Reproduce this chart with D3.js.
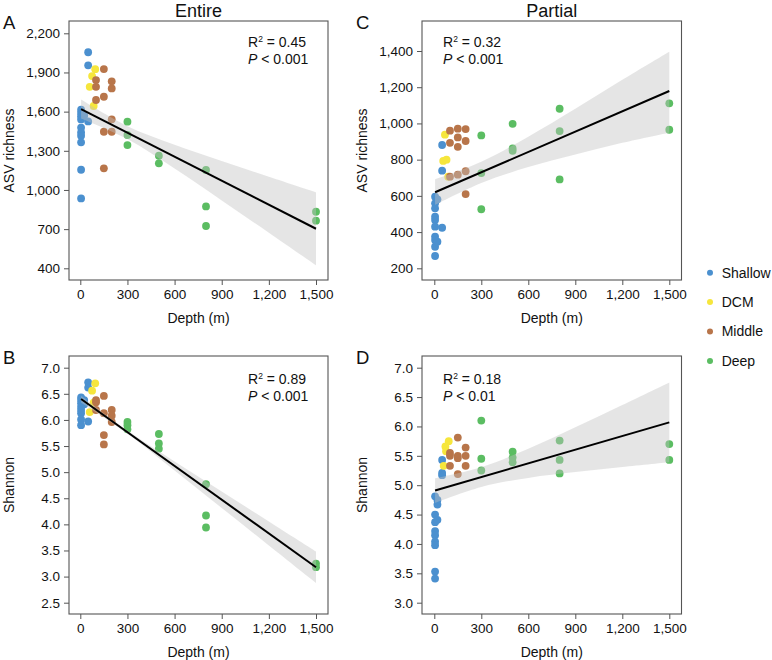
<!DOCTYPE html>
<html>
<head>
<meta charset="utf-8">
<script src="https://cdn.jsdelivr.net/npm/d3@7"></script>
<style>
  body { margin: 0; background: #fff; }
  svg text { font-family: "Liberation Sans", Arial, sans-serif; fill: #111; }
</style>
</head>
<body>
<div id="graph"></div>
<script>
// groups and depth axis
const groups = ["Shallow", "DCM", "Middle", "Deep"];
const depthTicks = [0, 300, 600, 900, 1200, 1500];
const richTicksEntire = [400, 700, 1000, 1300, 1600, 1900, 2200];
const richTicksPartial = [200, 400, 600, 800, 1000, 1200, 1400];
const shanTicksEntire = [2.5, 3.0, 3.5, 4.0, 4.5, 5.0, 5.5, 6.0, 6.5, 7.0];
const shanTicksPartial = [3.0, 3.5, 4.0, 4.5, 5.0, 5.5, 6.0, 6.5, 7.0];

// samples: [group, depth, value]
const entireRichness = [
  ["Shallow",5,1615],["Shallow",5,1590],["Shallow",5,1565],["Shallow",5,1540],["Shallow",5,1478],
  ["Shallow",5,1440],["Shallow",5,1415],["Shallow",5,1365],["Shallow",5,1155],["Shallow",5,935],
  ["Shallow",25,1570],["Shallow",50,1525],["Shallow",50,2055],["Shallow",50,1955],
  ["DCM",95,1925],["DCM",75,1872],["DCM",60,1790],["DCM",85,1643],
  ["Middle",150,1926],["Middle",100,1842],["Middle",100,1790],["Middle",200,1832],["Middle",200,1778],
  ["Middle",150,1714],["Middle",100,1689],["Middle",200,1541],["Middle",200,1446],["Middle",150,1446],
  ["Middle",150,1166],
  ["Deep",300,1523],["Deep",300,1421],["Deep",300,1344],["Deep",500,1262],["Deep",500,1204],
  ["Deep",800,1153],["Deep",800,874],["Deep",800,724],["Deep",1500,833],["Deep",1500,765]
];
const partialRichness = [
  ["Shallow",5,595],["Shallow",5,559],["Shallow",5,531],["Shallow",5,485],["Shallow",5,467],
  ["Shallow",5,430],["Shallow",5,375],["Shallow",5,356],["Shallow",5,319],["Shallow",5,268],
  ["Shallow",20,581],["Shallow",20,347],["Shallow",50,424],["Shallow",50,739],["Shallow",50,881],
  ["DCM",68,938],["DCM",57,793],["DCM",78,800],["DCM",89,706],
  ["Middle",100,960],["Middle",150,971],["Middle",200,969],["Middle",100,893],["Middle",150,923],
  ["Middle",150,871],["Middle",200,903],["Middle",100,706],["Middle",150,717],["Middle",200,736],
  ["Middle",200,610],
  ["Deep",300,934],["Deep",300,726],["Deep",300,526],["Deep",500,998],["Deep",500,862],
  ["Deep",500,849],["Deep",800,1081],["Deep",800,958],["Deep",800,691],["Deep",1500,1111],
  ["Deep",1500,965]
];
const entireShannon = [
  ["Shallow",5,6.43],["Shallow",5,6.38],["Shallow",5,6.32],["Shallow",5,6.25],["Shallow",5,6.19],
  ["Shallow",5,6.13],["Shallow",5,6.01],["Shallow",5,5.90],["Shallow",25,6.38],["Shallow",25,6.30],
  ["Shallow",50,6.72],["Shallow",50,6.62],["Shallow",50,5.97],
  ["DCM",95,6.70],["DCM",75,6.56],["DCM",85,6.33],["DCM",60,6.15],
  ["Middle",150,6.46],["Middle",100,6.38],["Middle",100,6.34],["Middle",100,6.19],["Middle",200,6.19],
  ["Middle",200,6.08],["Middle",150,6.13],["Middle",200,5.96],["Middle",150,5.71],["Middle",150,5.53],
  ["Deep",300,5.96],["Deep",300,5.90],["Deep",300,5.82],["Deep",500,5.73],["Deep",500,5.55],
  ["Deep",500,5.45],["Deep",800,4.77],["Deep",800,4.17],["Deep",800,3.94],["Deep",1500,3.25],
  ["Deep",1500,3.18]
];
const partialShannon = [
  ["Shallow",5,4.81],["Shallow",5,4.50],["Shallow",5,4.37],["Shallow",5,4.22],["Shallow",5,4.15],
  ["Shallow",5,4.04],["Shallow",5,3.98],["Shallow",5,3.53],["Shallow",5,3.41],["Shallow",20,4.75],
  ["Shallow",20,4.67],["Shallow",20,4.41],["Shallow",50,5.43],["Shallow",50,5.21],["Shallow",50,5.17],
  ["DCM",92,5.75],["DCM",71,5.66],["DCM",75,5.58],["DCM",60,5.33],
  ["Middle",150,5.81],["Middle",100,5.55],["Middle",100,5.50],["Middle",150,5.50],["Middle",150,5.46],
  ["Middle",200,5.64],["Middle",200,5.50],["Middle",100,5.33],["Middle",200,5.33],["Middle",150,5.19],
  ["Deep",300,6.10],["Deep",300,5.45],["Deep",300,5.25],["Deep",500,5.57],["Deep",500,5.47],
  ["Deep",500,5.39],["Deep",800,5.76],["Deep",800,5.43],["Deep",800,5.20],["Deep",1500,5.70],
  ["Deep",1500,5.43]
];

// fitted lines (depth 5 -> 1500) and 95% bands read at fitDepths
const fitEnds = [5, 1500];
const fitDepths = [5, 300, 600, 900, 1200, 1500];
const entireRichLine = [1620, 703];
const entireRichUpper = [1692, 1488, 1346, 1222, 1102, 983];
const entireRichLower = [1548, 1390, 1164, 920, 672, 423];
const partialRichLine = [620, 1179];
const partialRichUpper = [692, 789, 927, 1081, 1241, 1396];
const partialRichLower = [550, 671, 759, 829, 893, 949];
const entireShanLine = [6.40, 3.18];
const entireShanUpper = [6.465, 5.796, 5.206, 4.630, 4.055, 3.48];
const entireShanLower = [6.335, 5.734, 5.030, 4.314, 3.597, 2.88];
const partialShanLine = [4.91, 6.07];
const partialShanUpper = [5.12, 5.307, 5.62, 5.985, 6.365, 6.75];
const partialShanLower = [4.70, 4.971, 5.124, 5.223, 5.309, 5.39];

const stats = { A: ["0.45", "< 0.001"], C: ["0.32", "< 0.001"], B: ["0.89", "< 0.001"], D: ["0.18", "< 0.01"] };

const colors = { Shallow: "#4b90cf", DCM: "#f6e63c", Middle: "#b8754a", Deep: "#5bbd62" };
const axisColor = "#555";

const width = 772, height = 660;
const svg = d3.select("div#graph").append("svg")
  .attr("width", width).attr("height", height);

const panels = [
  { key: "A", data: entireRichness, line: entireRichLine, up: entireRichUpper, lo: entireRichLower,
    frame: { l: 69, t: 21, r: 328, b: 280 }, xr: [80.3, 316], yd: [400, 2200], yr: [268.3, 33.3],
    ticks: richTicksEntire, fmt: d3.format(","), ytitle: "ASV richness", title: "Entire",
    stat: [248, 47] },
  { key: "C", data: partialRichness, line: partialRichLine, up: partialRichUpper, lo: partialRichLower,
    frame: { l: 422, t: 21, r: 681.5, b: 280 }, xr: [434.3, 669.3], yd: [200, 1400], yr: [268.3, 51],
    ticks: richTicksPartial, fmt: d3.format(","), ytitle: "ASV richness", title: "Partial",
    stat: [443, 47] },
  { key: "B", data: entireShannon, line: entireShanLine, up: entireShanUpper, lo: entireShanLower,
    frame: { l: 69, t: 356, r: 328, b: 614 }, xr: [80.3, 316], yd: [2.5, 7.0], yr: [602.7, 367.7],
    ticks: shanTicksEntire, fmt: d3.format(".1f"), ytitle: "Shannon",
    stat: [248, 384] },
  { key: "D", data: partialShannon, line: partialShanLine, up: partialShanUpper, lo: partialShanLower,
    frame: { l: 422, t: 356, r: 681.5, b: 614 }, xr: [434.3, 669.3], yd: [3.0, 7.0], yr: [602.7, 367.7],
    ticks: shanTicksPartial, fmt: d3.format(".1f"), ytitle: "Shannon",
    stat: [443, 384] }
];

panels.forEach(p => {
  const f = p.frame;
  const xScale = d3.scaleLinear().domain([0, 1500]).range(p.xr);
  const yScale = d3.scaleLinear().domain(p.yd).range(p.yr);
  const g = svg.append("g");

  // points first, band drawn over them
  g.selectAll("circle.pt").data(p.data).enter()
    .append("circle")
    .attr("class", "pt")
    .attr("cx", d => xScale(d[1]))
    .attr("cy", d => yScale(d[2]))
    .attr("r", 3.9)
    .attr("fill", d => colors[d[0]]);

  const band = fitDepths.map((d, i) => ({ x: d, hi: p.up[i], lo: p.lo[i] }));
  g.append("path")
    .datum(band)
    .attr("fill", "#c2c2c2")
    .attr("fill-opacity", 0.42)
    .attr("d", d3.area()
      .curve(d3.curveCatmullRom)
      .x(d => xScale(d.x))
      .y0(d => yScale(d.lo))
      .y1(d => yScale(d.hi)));

  g.append("line")
    .attr("x1", xScale(fitEnds[0])).attr("x2", xScale(fitEnds[1]))
    .attr("y1", yScale(p.line[0])).attr("y2", yScale(p.line[1]))
    .attr("stroke", "#000").attr("stroke-width", 2);

  // frame
  g.append("rect")
    .attr("x", f.l).attr("y", f.t)
    .attr("width", f.r - f.l).attr("height", f.b - f.t)
    .attr("fill", "none").attr("stroke", axisColor).attr("stroke-width", 1.1);

  const xAxis = d3.axisBottom(xScale).tickValues(depthTicks).tickFormat(d3.format(","))
    .tickSize(5).tickPadding(4);
  const yAxis = d3.axisLeft(yScale).tickValues(p.ticks).tickFormat(p.fmt)
    .tickSize(5).tickPadding(4);

  const gx = g.append("g").attr("transform", `translate(0,${f.b})`).call(xAxis);
  const gy = g.append("g").attr("transform", `translate(${f.l},0)`).call(yAxis);
  [gx, gy].forEach(a => {
    a.select(".domain").remove();
    a.selectAll("line").attr("stroke", axisColor);
    a.selectAll("text").style("font-size", "13.5px").attr("fill", "#111");
  });

  // axis titles
  g.append("text")
    .attr("x", (f.l + f.r) / 2).attr("y", f.b + 43)
    .attr("text-anchor", "middle").style("font-size", "14px")
    .text("Depth (m)");
  g.append("text")
    .attr("transform", `translate(${f.l - 60},${(f.t + f.b) / 2}) rotate(-90)`)
    .attr("dy", "0.35em")
    .attr("text-anchor", "middle").style("font-size", "14px")
    .text(p.ytitle);

  // panel letter
  g.append("text")
    .attr("x", f.l - 66).attr("y", f.t + 7.5)
    .style("font-size", "18.5px")
    .text(p.key);

  if (p.title) {
    g.append("text")
      .attr("x", (f.l + f.r) / 2).attr("y", 16.5)
      .attr("text-anchor", "middle").style("font-size", "18px")
      .text(p.title);
  }

  // stats
  const s = stats[p.key];
  const t1 = g.append("text").attr("x", p.stat[0]).attr("y", p.stat[1]).style("font-size", "14px");
  t1.append("tspan").text("R");
  t1.append("tspan").attr("dy", -5).style("font-size", "8.5px").text("2");
  t1.append("tspan").attr("dy", 5).text(" = " + s[0]);
  const t2 = g.append("text").attr("x", p.stat[0]).attr("y", p.stat[1] + 17).style("font-size", "14px");
  t2.append("tspan").style("font-style", "italic").text("P");
  t2.append("tspan").text(" " + s[1]);
});

// legend
const legend = svg.append("g").attr("transform", "translate(710,272.7)");
groups.forEach((gname, i) => {
  const row = legend.append("g").attr("transform", `translate(0,${i * 29.4})`);
  row.append("circle").attr("r", 3).attr("fill", colors[gname]);
  row.append("text").attr("x", 11.7).attr("dy", "0.35em").style("font-size", "14px").text(gname);
});
</script>
</body>
</html>
